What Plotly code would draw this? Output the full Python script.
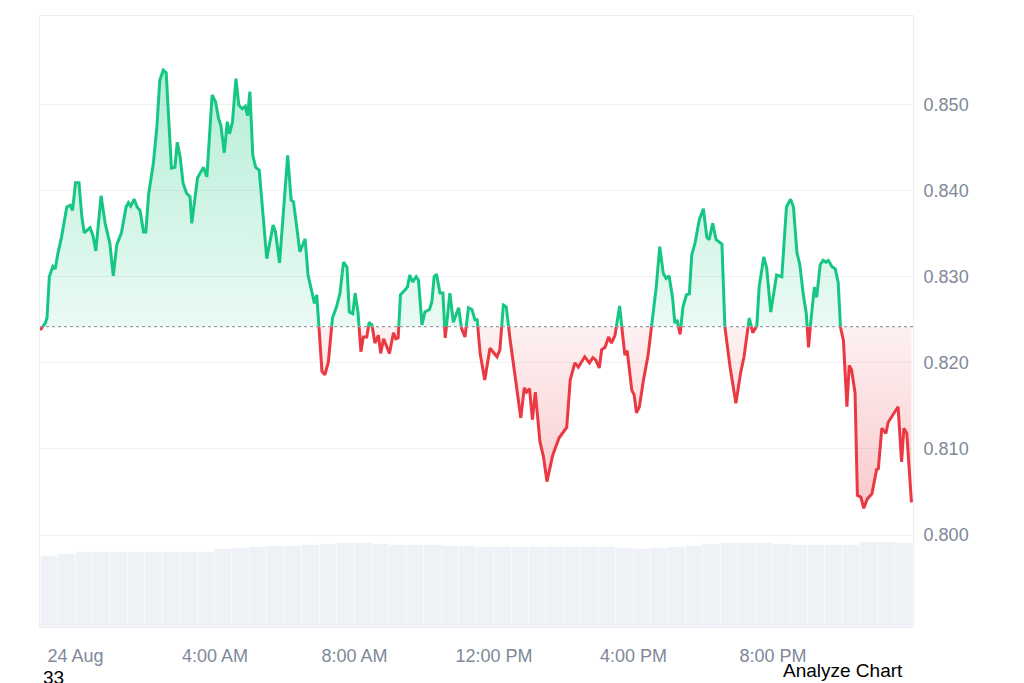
import plotly.graph_objects as go
import pandas as pd

# price trace: minutes from 24 Aug 00:00 and price in USD
minutes = [-61, -52, -49, -45, -39, -35, -30, -24, -15, -9, -5, 0, 6, 11, 15, 25, 30, 35, 44, 51,
           59, 65, 71, 79, 87, 91, 95, 101, 106, 111, 117, 121, 126, 134, 140, 145, 151, 156, 165, 171,
           175, 180, 185, 191, 197, 200, 210, 220, 226, 235, 241, 246, 250, 256, 261, 265, 270, 276, 281, 287,
           292, 296, 300, 305, 310, 316, 329, 340, 344, 351, 365, 371, 375, 386, 395, 400, 411, 415, 424, 429,
           435, 442, 449, 455, 461, 467, 471, 477, 481, 486, 491, 495, 501, 505, 510, 515, 521, 525, 530, 534,
           540, 547, 551, 555, 559, 567, 571, 575, 580, 586, 590, 596, 601, 609, 613, 617, 621, 627, 632, 636,
           644, 650, 659, 664, 670, 676, 682, 687, 691, 696, 704, 713, 725, 730, 736, 741, 747, 766, 772, 776,
           781, 786, 791, 799, 805, 811, 821, 832, 845, 851, 859, 865, 876, 884, 890, 895, 901, 905, 911, 917,
           922, 928, 936, 940, 945, 949, 957, 961, 965, 970, 977, 985, 991, 999, 1005, 1011, 1016, 1021, 1027, 1031,
           1035, 1040, 1045, 1051, 1056, 1060, 1066, 1073, 1080, 1086, 1090, 1096, 1102, 1112, 1117, 1126, 1136, 1144, 1150, 1159,
           1165, 1172, 1176, 1184, 1189, 1196, 1206, 1215, 1223, 1230, 1235, 1241, 1246, 1252, 1257, 1261, 1266, 1271, 1275, 1281,
           1286, 1291, 1295, 1301, 1307, 1312, 1316, 1321, 1327, 1331, 1335, 1341, 1345, 1351, 1356, 1362, 1370, 1378, 1381, 1387,
           1394, 1398, 1408, 1415, 1421, 1425, 1430, 1438]
prices = [0.8238, 0.8246, 0.8252, 0.8300, 0.8312, 0.8309, 0.8328, 0.8346, 0.8381, 0.8383, 0.8377, 0.8409, 0.8409, 0.8369, 0.8351, 0.8357, 0.8348, 0.8330, 0.8394, 0.8362,
          0.8339, 0.8301, 0.8337, 0.8351, 0.8381, 0.8386, 0.8382, 0.8390, 0.8381, 0.8377, 0.8352, 0.8352, 0.8397, 0.8432, 0.8474, 0.8528, 0.8540, 0.8537, 0.8426, 0.8427,
          0.8456, 0.8439, 0.8409, 0.8397, 0.8393, 0.8362, 0.8415, 0.8427, 0.8416, 0.8511, 0.8503, 0.8484, 0.8476, 0.8444, 0.8480, 0.8466, 0.8480, 0.8530, 0.8499, 0.8495,
          0.8498, 0.8487, 0.8515, 0.8441, 0.8427, 0.8424, 0.8321, 0.8360, 0.8352, 0.8316, 0.8441, 0.8389, 0.8387, 0.8329, 0.8344, 0.8302, 0.8269, 0.8279, 0.8190, 0.8186,
          0.8201, 0.8252, 0.8265, 0.8281, 0.8317, 0.8311, 0.8259, 0.8257, 0.8281, 0.8258, 0.8213, 0.8230, 0.8230, 0.8247, 0.8244, 0.8223, 0.8232, 0.8211, 0.8228, 0.8221,
          0.8211, 0.8235, 0.8228, 0.8229, 0.8279, 0.8285, 0.8288, 0.8302, 0.8294, 0.8300, 0.8296, 0.8244, 0.8259, 0.8262, 0.8271, 0.8300, 0.8303, 0.8281, 0.8281, 0.8229,
          0.8281, 0.8247, 0.8264, 0.8240, 0.8230, 0.8264, 0.8262, 0.8250, 0.8250, 0.8211, 0.8180, 0.8217, 0.8207, 0.8215, 0.8267, 0.8265, 0.8230, 0.8136, 0.8171, 0.8166,
          0.8170, 0.8134, 0.8166, 0.8108, 0.8091, 0.8062, 0.8093, 0.8113, 0.8125, 0.8180, 0.8200, 0.8195, 0.8207, 0.8200, 0.8206, 0.8203, 0.8194, 0.8215, 0.8218, 0.8230,
          0.8223, 0.8232, 0.8266, 0.8240, 0.8209, 0.8214, 0.8168, 0.8163, 0.8142, 0.8149, 0.8180, 0.8209, 0.8243, 0.8288, 0.8335, 0.8304, 0.8298, 0.8301, 0.8276, 0.8246,
          0.8250, 0.8233, 0.8265, 0.8279, 0.8280, 0.8325, 0.8340, 0.8366, 0.8379, 0.8346, 0.8343, 0.8362, 0.8343, 0.8338, 0.8242, 0.8195, 0.8153, 0.8188, 0.8207, 0.8252,
          0.8235, 0.8243, 0.8288, 0.8323, 0.8310, 0.8259, 0.8302, 0.8300, 0.8381, 0.8390, 0.8381, 0.8328, 0.8314, 0.8279, 0.8258, 0.8218, 0.8258, 0.8288, 0.8276, 0.8314,
          0.8319, 0.8317, 0.8319, 0.8312, 0.8309, 0.8293, 0.8241, 0.8226, 0.8149, 0.8197, 0.8192, 0.8165, 0.8046, 0.8044, 0.8031, 0.8042, 0.8048, 0.8076, 0.8077, 0.8124,
          0.8118, 0.8131, 0.8142, 0.8149, 0.8085, 0.8124, 0.8118, 0.8038]
open_price = 0.8242

# 30 min volume bars, start minute from 24 Aug 00:00 (millions USD)
vol_start = list(range(-60, 1440, 30))
volumes = [284, 292, 300, 300, 300, 300, 300, 300, 300, 300,
           312, 316, 320, 324, 324, 328, 332, 336, 336, 332, 328, 328, 328, 324, 324,
           320, 320, 320, 320, 320, 320, 320, 320,
           316, 312, 316, 320, 324,
           332, 336, 336, 336, 332,
           328, 328, 328, 328,
           340, 340, 336]

y_ticks = [0.800, 0.810, 0.820, 0.830, 0.840, 0.850]
x_ticks = ["2024-08-24 00:00", "2024-08-24 04:00", "2024-08-24 08:00",
           "2024-08-24 12:00", "2024-08-24 16:00", "2024-08-24 20:00"]
x_labels = ["24 Aug", "4:00 AM", "8:00 AM", "12:00 PM", "4:00 PM", "8:00 PM"]

GREEN = "#16c784"
RED = "#ea3943"
day0 = pd.Timestamp("2024-08-24 00:00")

# add the points where the line crosses the opening price so colours split cleanly
pts = []
for i in range(len(minutes)):
    if i > 0:
        m0, p0 = minutes[i - 1], prices[i - 1]
        m1, p1 = minutes[i], prices[i]
        if (p0 - open_price) * (p1 - open_price) < 0:
            f = (open_price - p0) / (p1 - p0)
            pts.append((m0 + f * (m1 - m0), open_price))
    pts.append((minutes[i], prices[i]))

t = [day0 + pd.Timedelta(minutes=m) for m, _ in pts]
p = [v for _, v in pts]
up_line = [v if v >= open_price else None for v in p]
dn_line = [v if v <= open_price else None for v in p]
up_fill = [max(v, open_price) for v in p]
dn_fill = [min(v, open_price) for v in p]
base = [open_price] * len(p)

fig = go.Figure()

fig.add_trace(go.Bar(
    x=[day0 + pd.Timedelta(minutes=m + 15) for m in vol_start], y=volumes,
    width=30 * 60 * 1000, marker=dict(color="#eef1f5", line=dict(color="rgba(255,255,255,0.7)", width=0.6)),
    yaxis="y2", hoverinfo="skip"))

fig.add_trace(go.Scatter(x=t, y=base, mode="lines", line=dict(width=0), hoverinfo="skip"))
fig.add_trace(go.Scatter(
    x=t, y=up_fill, mode="lines", line=dict(width=0), fill="tonexty",
    fillgradient=dict(type="vertical", start=open_price, stop=0.854,
                      colorscale=[[0, "rgba(22,199,132,0.09)"], [1, "rgba(22,199,132,0.32)"]]),
    hoverinfo="skip"))
fig.add_trace(go.Scatter(x=t, y=base, mode="lines", line=dict(width=0), hoverinfo="skip"))
fig.add_trace(go.Scatter(
    x=t, y=dn_fill, mode="lines", line=dict(width=0), fill="tonexty",
    fillgradient=dict(type="vertical", start=0.803, stop=open_price,
                      colorscale=[[0, "rgba(234,57,67,0.27)"], [1, "rgba(234,57,67,0.07)"]]),
    hoverinfo="skip"))

fig.add_trace(go.Scatter(x=t, y=up_line, mode="lines", line=dict(color=GREEN, width=3), connectgaps=False))
fig.add_trace(go.Scatter(x=t, y=dn_line, mode="lines", line=dict(color=RED, width=3), connectgaps=False))

fig.add_shape(type="line", xref="paper", x0=0, x1=1, y0=open_price, y1=open_price,
              line=dict(color="#9a9fa8", width=1.4, dash="dot"))

tick_font = dict(family="Liberation Sans, Arial", size=18, color="#80889a")

# the page body adds an 8px offset, so the figure is 8px smaller than the window
fig.update_layout(
    width=1016, height=675,
    margin=dict(l=32, r=111, t=8, b=56),
    paper_bgcolor="white", plot_bgcolor="white",
    showlegend=False,
    bargap=0,
    xaxis=dict(
        range=["2024-08-23 22:58:56", "2024-08-25 00:00:40"],
        tickvals=x_ticks, ticktext=x_labels, tickfont=tick_font,
        showgrid=False, zeroline=False, ticks="", ticklabelstandoff=12,
        showline=True, mirror=True, linecolor="#eceff2", linewidth=1,
    ),
    yaxis=dict(
        range=[0.78932, 0.86028], side="right",
        tickvals=y_ticks, ticktext=[f"{v:.3f}" for v in y_ticks], tickfont=tick_font,
        showgrid=True, gridcolor="#eff1f4", gridwidth=1, zeroline=False, ticks="",
        ticklabelstandoff=6,
        showline=True, mirror=True, linecolor="#eceff2", linewidth=1,
    ),
    yaxis2=dict(range=[0, 2444], overlaying="y", visible=False),
    annotations=[
        dict(text="33", xref="paper", yref="paper", x=0.001, y=-0.082, xanchor="left", yanchor="middle",
             showarrow=False, font=dict(family="Liberation Sans, Arial", size=19, color="black")),
        dict(text="Analyze Chart", xref="paper", yref="paper", x=0.8488, y=-0.072, xanchor="left",
             yanchor="middle", showarrow=False,
             font=dict(family="Liberation Sans, Arial", size=19, color="black")),
    ],
)

fig.write_html("out.html", config={"displayModeBar": False})
